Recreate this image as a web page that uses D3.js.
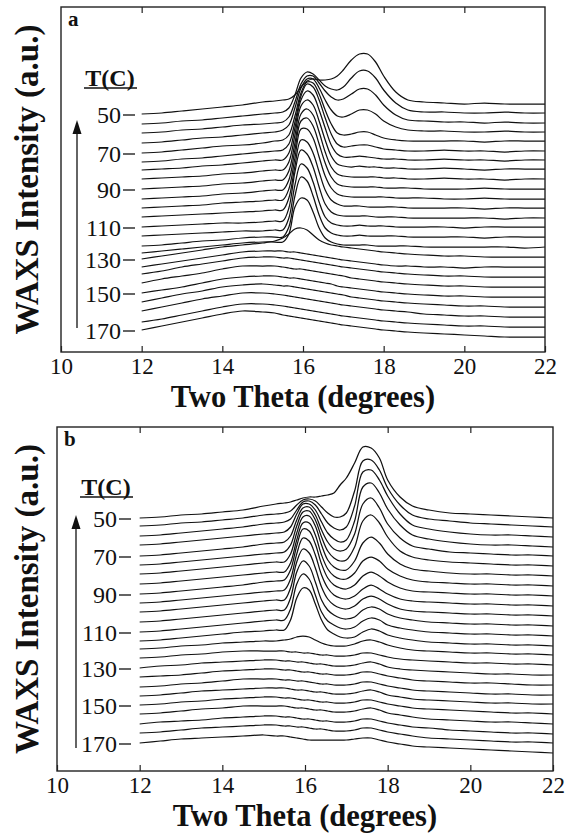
<!DOCTYPE html>
<html>
<head>
<meta charset="utf-8">
<script src="https://cdn.jsdelivr.net/npm/d3@7"></script>
<style>
  body { margin: 0; background: #fff; }
  text { font-family: "Liberation Serif", "Times New Roman", Times, serif; fill: #111; }
</style>
</head>
<body>
<svg id="fig" width="571" height="839"></svg>
<script>
// Scattering angle grid (degrees) shared by every pattern
const twoTheta = [12, 12.5, 13, 13.5, 14, 14.5, 15, 15.3, 15.5, 15.65, 15.8, 15.95, 16.1, 16.25, 16.4,
  16.55, 16.7, 16.85, 17, 17.2, 17.4, 17.6, 17.8, 18, 18.3, 18.6, 19, 19.5, 20, 20.5, 21, 21.5, 22];

// Temperatures of the stacked patterns (top to bottom), and the labelled ones
const temperatures = [50, 55, 60, 65, 70, 75, 80, 85, 90, 95, 100, 105, 110, 115, 120, 125, 130, 135, 140, 145, 150, 155, 160, 165, 170];
const tempTicks = [50, 70, 90, 110, 130, 150, 170];
const xTicks = [10, 12, 14, 16, 18, 20, 22];

// Sample a: vertical stacking offsets (a.u.) and intensities (a.u.)
const offsetsA = [218, 208, 199, 189, 179, 170, 162, 153, 143, 133, 124, 115, 105, 96, 86, 79, 73, 65, 58, 49, 39, 30, 21, 10, 2];
const intensityA = [
  [20,21,23,25,27,29,32,33,34,35,39,47,53,55,54,54,55,58,64,74,80,80,72,58,42,34,32,31,30,31,30,30,30],
  [20,21,23,24,26,28,30,31,32,36,49,66,72,70,64,58,55,54,57,66,73,73,66,54,41,34,32,32,31,31,32,31,31],
  [20,21,23,24,26,28,29,30,31,36,51,69,77,77,70,62,56,53,54,59,64,64,58,48,38,33,32,31,31,30,31,30,30],
  [20,21,23,25,26,28,30,31,33,38,55,75,84,84,75,63,53,47,46,49,53,53,49,42,36,33,32,32,31,31,32,31,31],
  [20,21,23,25,27,28,30,32,33,38,57,80,91,90,79,63,49,40,38,39,41,41,38,35,33,32,32,32,32,31,32,32,32],
  [20,21,23,24,26,28,30,31,32,38,60,86,98,95,82,64,48,38,35,36,37,37,35,33,32,31,31,32,31,31,30,31,31],
  [20,21,22,24,25,27,29,30,30,37,62,90,99,95,80,62,45,36,33,33,34,33,32,31,31,30,30,31,30,30,29,30,30],
  [20,21,22,23,25,26,28,29,29,37,64,93,99,94,78,59,43,35,33,32,33,32,32,31,31,30,30,31,30,29,30,30,30],
  [20,21,22,23,25,26,28,29,29,38,66,95,100,94,77,57,42,35,33,32,32,32,32,31,31,30,30,31,30,30,29,30,30],
  [20,21,22,23,25,26,28,29,29,39,69,98,101,93,75,56,42,35,33,32,32,32,32,31,31,31,30,30,30,31,30,30,30],
  [20,21,22,23,25,26,27,28,28,39,70,99,99,90,71,52,40,34,32,31,31,31,31,31,30,30,30,29,29,30,29,29,29],
  [20,21,22,23,24,25,26,27,27,39,71,97,95,84,65,47,37,33,31,31,31,30,30,30,30,29,29,29,29,28,29,29,29],
  [20,21,22,23,24,24,25,26,26,39,75,97,93,80,60,43,35,32,31,31,31,31,30,30,30,29,29,29,29,29,28,29,29],
  [20,21,22,23,24,25,25,26,26,38,71,92,88,74,54,39,33,31,30,30,31,30,30,30,29,29,29,29,28,29,29,29,29],
  [20,21,23,25,26,28,29,29,29,39,70,89,85,70,51,38,33,31,30,30,31,30,30,30,30,29,29,29,29,28,29,29,29],
  [20,22,24,26,28,30,31,31,31,39,66,75,73,61,45,35,31,29,28,28,28,28,27,27,27,27,26,26,26,26,26,25,26],
  [20,23,26,29,32,34,36,38,41,45,50,51,49,44,39,36,34,33,32,31,30,29,28,27,26,25,24,23,23,22,22,22,22],
  [20,23,26,29,32,35,36,36,36,35,35,34,33,32,31,30,29,28,27,26,25,24,23,22,21,21,20,20,19,20,20,20,20],
  [20,23,27,30,33,36,37,37,36,36,35,34,33,32,31,30,29,28,27,26,25,24,23,22,21,20,19,18,18,17,17,17,17],
  [20,24,27,30,34,37,37,37,36,35,34,34,33,32,31,30,29,28,27,25,24,23,22,21,20,19,18,17,17,16,16,16,16],
  [20,23,26,30,34,36,37,37,36,35,35,34,33,32,31,30,29,27,26,25,24,23,22,21,20,19,18,17,17,16,16,16,16],
  [20,24,28,31,35,37,38,37,36,36,35,34,33,32,31,30,29,28,27,25,24,23,22,21,20,19,18,17,16,16,15,15,15],
  [20,24,28,32,35,38,38,37,36,35,34,33,32,31,30,29,28,27,26,25,24,23,22,21,20,19,17,16,15,15,14,14,14],
  [20,23,27,31,35,38,38,37,36,35,34,33,32,31,30,29,28,27,26,25,24,23,22,21,20,19,18,17,16,16,15,15,15],
  [20,24,28,32,36,39,38,37,35,34,33,32,31,30,29,28,27,26,25,24,23,22,21,20,19,18,17,16,15,14,13,13,13]
];

// Sample b: vertical stacking offsets (a.u.) and intensities (a.u.)
const offsetsB = [233, 225, 215, 206, 195, 186, 177, 167, 157, 148, 139, 129, 119, 110, 102, 93, 83, 74, 64, 55, 46, 37, 27, 18, 8];
const intensityB = [
  [20,21,23,24,26,28,32,34,35,36,38,40,41,41,42,43,45,53,60,75,91,90,80,58,41,32,28,25,24,23,22,21,20],
  [20,21,23,24,26,28,31,32,33,35,41,46,47,45,39,33,29,29,33,55,85,86,76,58,41,31,27,25,23,22,21,20,19],
  [20,21,23,25,27,29,32,33,34,37,46,54,55,51,42,33,28,26,29,50,84,86,76,60,42,31,27,24,22,21,21,20,19],
  [20,21,23,25,27,29,31,32,33,38,51,61,61,55,43,32,26,23,25,44,78,82,72,56,40,30,26,23,21,20,20,19,18],
  [20,21,23,25,27,29,32,33,34,40,56,68,69,61,46,34,27,25,27,42,72,78,68,52,38,30,27,24,23,22,21,21,20],
  [20,21,23,25,27,29,31,32,33,40,59,73,74,65,48,34,27,24,25,38,64,70,62,48,34,28,25,23,22,21,20,20,19],
  [20,21,23,25,27,29,31,32,32,40,61,77,78,68,49,34,27,24,24,33,51,57,51,40,30,25,23,21,20,20,19,19,18],
  [20,21,23,25,27,29,31,32,32,41,64,81,81,69,49,35,28,25,25,31,43,47,43,35,28,24,22,21,20,20,19,19,18],
  [20,21,23,25,27,29,32,33,34,44,68,85,83,70,50,36,29,26,25,29,38,42,38,32,26,23,22,21,20,20,19,19,18],
  [20,21,23,25,27,29,31,32,33,44,69,85,82,68,48,35,28,25,24,27,34,38,34,29,24,22,21,20,19,19,18,18,17],
  [20,21,23,25,27,29,31,32,32,44,70,83,79,64,45,33,27,24,23,26,33,36,33,28,23,21,20,19,18,18,17,17,16],
  [20,21,23,25,27,29,31,32,32,44,70,81,76,60,42,32,27,24,23,25,32,35,33,28,24,22,20,19,18,18,17,17,16],
  [20,21,23,25,27,29,31,32,32,43,68,78,73,57,40,31,27,24,23,25,31,34,32,27,24,22,20,19,18,18,17,17,16],
  [20,21,23,25,27,29,30,31,31,41,63,73,71,57,41,31,27,24,23,24,29,32,30,26,23,21,19,18,17,17,16,16,15],
  [20,21,23,24,26,27,28,28,29,30,32,33,32,29,26,24,23,23,23,25,28,29,27,24,21,19,18,17,16,16,15,15,14],
  [20,21,23,24,26,27,27,27,27,26,26,25,25,24,23,23,22,22,22,23,25,25,23,21,19,18,17,16,15,15,14,14,13],
  [20,22,23,25,26,27,28,28,27,27,26,26,25,24,24,23,22,22,22,23,25,26,24,21,19,18,17,16,15,14,14,13,13],
  [20,21,22,24,26,27,28,28,27,27,26,25,25,24,23,23,22,22,22,23,25,25,23,21,19,17,16,15,14,14,13,12,12],
  [20,21,23,24,26,28,28,28,27,27,26,26,25,24,23,23,22,22,22,23,25,25,23,21,19,17,16,15,14,13,13,12,12],
  [20,21,23,25,26,27,28,28,28,27,26,26,25,24,24,23,22,22,22,23,25,26,24,21,19,17,16,15,14,13,13,12,12],
  [20,21,23,24,26,27,28,28,27,27,26,25,25,24,23,23,22,22,22,23,25,25,23,21,19,17,16,15,14,13,12,12,11],
  [20,21,23,25,26,28,28,28,28,27,26,26,25,24,24,23,22,22,22,23,25,26,24,21,19,17,15,14,13,12,12,11,10],
  [20,22,23,24,26,27,28,28,27,27,26,25,25,24,23,23,22,22,22,23,25,25,23,21,19,17,16,14,13,12,11,11,10],
  [20,21,23,25,26,27,28,28,27,27,26,26,25,24,24,23,22,22,22,23,25,25,23,21,19,17,15,14,13,12,11,11,10],
  [20,22,24,25,26,27,28,27,27,26,25,24,23,23,23,23,23,23,23,24,25,25,23,21,19,17,16,15,14,13,12,11,10]
];

const svg = d3.select("#fig");
const serif = '"Liberation Serif", "Times New Roman", Times, serif';

function drawPanel(cfg) {
  const g = svg.append("g");
  const x = d3.scaleLinear().domain([10, 22]).range([cfg.left, cfg.right]);
  const y = d3.scaleLinear().domain([0, cfg.span]).range([cfg.bottom, cfg.top]);

  // stacked patterns
  const line = d3.line()
    .x(d => x(d[0]))
    .y(d => y(d[1]))
    .curve(d3.curveCatmullRom.alpha(0.5));

  cfg.intensity.forEach((row, i) => {
    const pts = row.map((v, k) => [twoTheta[k], cfg.offsets[i] + v]);
    g.append("path")
      .attr("d", line(pts))
      .attr("fill", "none")
      .attr("stroke", "#111")
      .attr("stroke-width", 1.25)
      .attr("stroke-linejoin", "round");
  });

  // frame
  g.append("rect")
    .attr("x", cfg.left).attr("y", cfg.top)
    .attr("width", cfg.right - cfg.left).attr("height", cfg.bottom - cfg.top)
    .attr("fill", "none").attr("stroke", "#222").attr("stroke-width", 1.4);

  // bottom axis with inward ticks
  const bottomAxis = d3.axisBottom(x).tickValues(xTicks).tickSizeInner(-6).tickSizeOuter(0).tickPadding(6);
  const ax = g.append("g").attr("transform", `translate(0,${cfg.bottom})`).call(bottomAxis);
  ax.select(".domain").remove();
  ax.selectAll(".tick line").attr("stroke", "#222").attr("stroke-width", 1.2);
  ax.selectAll(".tick text").style("font-family", serif)
    .style("font-size", "23px").attr("fill", "#111");

  // top axis: ticks only
  const topAxis = d3.axisTop(x).tickValues(xTicks.slice(1, -1)).tickSizeInner(-6).tickSizeOuter(0).tickFormat("");
  const at = g.append("g").attr("transform", `translate(0,${cfg.top})`).call(topAxis);
  at.select(".domain").remove();
  at.selectAll(".tick line").attr("stroke", "#222").attr("stroke-width", 1.2);

  // temperature labels at the start of the labelled patterns
  tempTicks.forEach(t => {
    const i = temperatures.indexOf(t);
    const yy = y(cfg.offsets[i] + cfg.intensity[i][0]) + 1;
    g.append("text")
      .attr("x", cfg.left + 60).attr("y", yy)
      .attr("dy", "0.35em")
      .attr("text-anchor", "end")
      .style("font-size", "24px")
      .text(t);
    g.append("line")
      .attr("x1", cfg.left + 62).attr("x2", cfg.left + 74)
      .attr("y1", yy).attr("y2", yy)
      .attr("stroke", "#222").attr("stroke-width", 1.4);
  });

  // T(C) heading, underlined
  g.append("text")
    .attr("x", cfg.left + 49).attr("y", cfg.headY)
    .attr("text-anchor", "middle")
    .style("font-size", "24px").style("font-weight", "bold")
    .text("T(C)");
  g.append("line")
    .attr("x1", cfg.left + 23).attr("x2", cfg.left + 76)
    .attr("y1", cfg.headY + 2).attr("y2", cfg.headY + 2)
    .attr("stroke", "#111").attr("stroke-width", 1.3);

  // cooling arrow
  g.append("line")
    .attr("x1", cfg.arrowX).attr("x2", cfg.arrowX)
    .attr("y1", cfg.arrowFrom).attr("y2", cfg.arrowTo + 10)
    .attr("stroke", "#111").attr("stroke-width", 1.3);
  g.append("path")
    .attr("d", `M${cfg.arrowX},${cfg.arrowTo} L${cfg.arrowX + 4.5},${cfg.arrowTo + 14} L${cfg.arrowX - 4.5},${cfg.arrowTo + 14} Z`)
    .attr("fill", "#111");

  // panel letter
  g.append("text")
    .attr("x", cfg.left + 7).attr("y", cfg.top + 19)
    .style("font-size", "21px").style("font-weight", "bold")
    .text(cfg.letter);

  // axis titles
  g.append("text")
    .attr("x", (cfg.left + cfg.right) / 2).attr("y", cfg.bottom + 55)
    .attr("text-anchor", "middle")
    .style("font-size", "30.5px").style("font-weight", "bold")
    .text("Two Theta (degrees)");

  g.append("text")
    .attr("transform", `translate(38,${(cfg.top + cfg.bottom) / 2}) rotate(-90)`)
    .attr("text-anchor", "middle")
    .style("font-size", "33px").style("font-weight", "bold")
    .text("WAXS Intensity (a.u.)");
}

drawPanel({
  letter: "a", left: 61, right: 545, top: 7, bottom: 352, span: 345,
  offsets: offsetsA, intensity: intensityA,
  headY: 86, arrowX: 77, arrowFrom: 328, arrowTo: 120
});

drawPanel({
  letter: "b", left: 57, right: 553, top: 427, bottom: 771, span: 344,
  offsets: offsetsB, intensity: intensityB,
  headY: 495, arrowX: 76, arrowFrom: 748, arrowTo: 515
});
</script>
</body>
</html>
